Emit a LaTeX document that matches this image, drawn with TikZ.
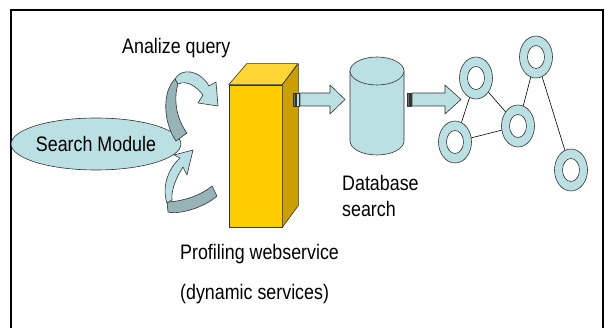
\documentclass[tikz,border=0pt]{standalone}
\usepackage{fontspec}
\newfontfamily\labelfont[FakeStretch=0.85]{Liberation Sans}
\usetikzlibrary{shapes.geometric}
\definecolor{teal1}{HTML}{BBE0E3}
\definecolor{teal2}{HTML}{96B3B7}
\definecolor{teal3}{HTML}{5F7476}
\definecolor{edgegray}{HTML}{333333}
\definecolor{goldfront}{HTML}{FFCC00}
\definecolor{goldtop}{HTML}{FFD633}
\definecolor{goldside}{HTML}{CC9F00}
\begin{document}
\begin{tikzpicture}[x=1pt,y=-1pt,
  lbl/.style={font=\labelfont\fontsize{21}{24}\selectfont, inner sep=0pt, anchor=base west},
  outline/.style={draw=edgegray, line width=0.6pt, line join=round},
  lightpart/.style={outline, fill=teal1},
  darkpart/.style={outline, fill=teal2},
  ring/.style={ellipse, outline, fill=teal1, minimum width=33pt, minimum height=42pt, inner sep=0pt,
    path picture={\draw[edgegray, line width=0.6pt, fill=white] (path picture bounding box.center) ellipse (8.5pt and 11.5pt);}},
  graphedge/.style={draw=black, line width=0.6pt}
]
\useasboundingbox (0,0) rectangle (605,328);
\fill[white] (0,0) rectangle (605,328);
% frame
\draw[line width=2pt] (11,328) -- (11,10) -- (603,10) -- (603,328);

% labels
\node[lbl] (lq) at (122,54) {Analize query};
\node[lbl] (lp) at (180,260) {Profiling webservice};
\node[lbl] (ld) at (180,300) {(dynamic services)};
\node[lbl] (ldb1) at (342,191) {Database};
\node[lbl] (ldb2) at (342,217) {search};

% search module
\node[ellipse, outline, fill=teal1, minimum width=141pt, minimum height=52pt, inner sep=0pt,
  font=\labelfont\fontsize{21}{24}\selectfont] (sm) at (96,144) {Search Module};

% upper curved arrow: back (dark) and front (light) of the ribbon
\draw[darkpart] (175,79) .. controls (162,92) and (163,122) .. (176,141) -- (187,133)
  .. controls (177,120) and (173,100) .. (178,84) -- cycle;
\draw[lightpart] (175,79) .. controls (181,68) and (199,69) .. (209,86) -- (216,82) -- (218,106)
  -- (198,103) -- (203,95) .. controls (196,86) and (187,80) .. (178,84) -- cycle;

% lower curved arrow
\draw[darkpart] (167,202) .. controls (176,202) and (198,198) .. (212,186) -- (217,196)
  .. controls (205,207) and (180,215) .. (168,212) -- cycle;
\draw[lightpart] (180,158) -- (174,155) -- (193,150) -- (187,175) -- (183,167)
  .. controls (176,178) and (171,190) .. (172,200) -- (167,203)
  .. controls (162,188) and (167,170) .. (180,158) -- cycle;

% profiling webservice box
\node[outline, fill=goldfront, minimum width=53pt, minimum height=142pt, inner sep=0pt] (front) at (255.5,156) {};
\draw[outline, fill=goldtop] (front.north west) -- ++(18,-21) -- ++(51,0) -- (front.north east) -- cycle;
\draw[outline, fill=goldside] (front.north east) -- ++(16,-21) -- ++(0,142) -- (front.south east) -- cycle;

% database cylinder
\coordinate (db) at (377,106);
\draw[outline, fill=teal1] (350,71) -- (350,141) arc[start angle=180, end angle=360, x radius=27pt, y radius=14pt]
  -- (404,71) -- cycle;
\draw[outline, fill=teal1] (db |- 0,71) ellipse (27pt and 14pt);

% block arrows
\foreach \s/\e/\h/\t in {293/300/330/345, 407/412/445/461}{
  \draw[outline, fill=teal3] (\s,93) rectangle (\s+2.5,106);
  \draw[outline, fill=teal1] (\s+3.5,93) rectangle (\e-0.5,106);
  \draw[outline, fill=teal1] (\e,93) -- (\h,93) -- (\h,85) -- (\t,99.5) -- (\h,114) -- (\h,106) -- (\e,106) -- cycle;
}

% graph of rings
\node[ring] (r1) at (476,78) {};
\node[ring] (r2) at (536,57) {};
\node[ring] (r3) at (455,142) {};
\node[ring] (r4) at (518,126) {};
\node[ring] (r5) at (571,170) {};
\draw[graphedge] (r1) -- (r3);
\draw[graphedge] (r1) -- (r4);
\draw[graphedge] (r3) -- (r4);
\draw[graphedge] (r4) -- (r2);
\draw[graphedge] (r2) -- (r5);
\end{tikzpicture}
\end{document}
